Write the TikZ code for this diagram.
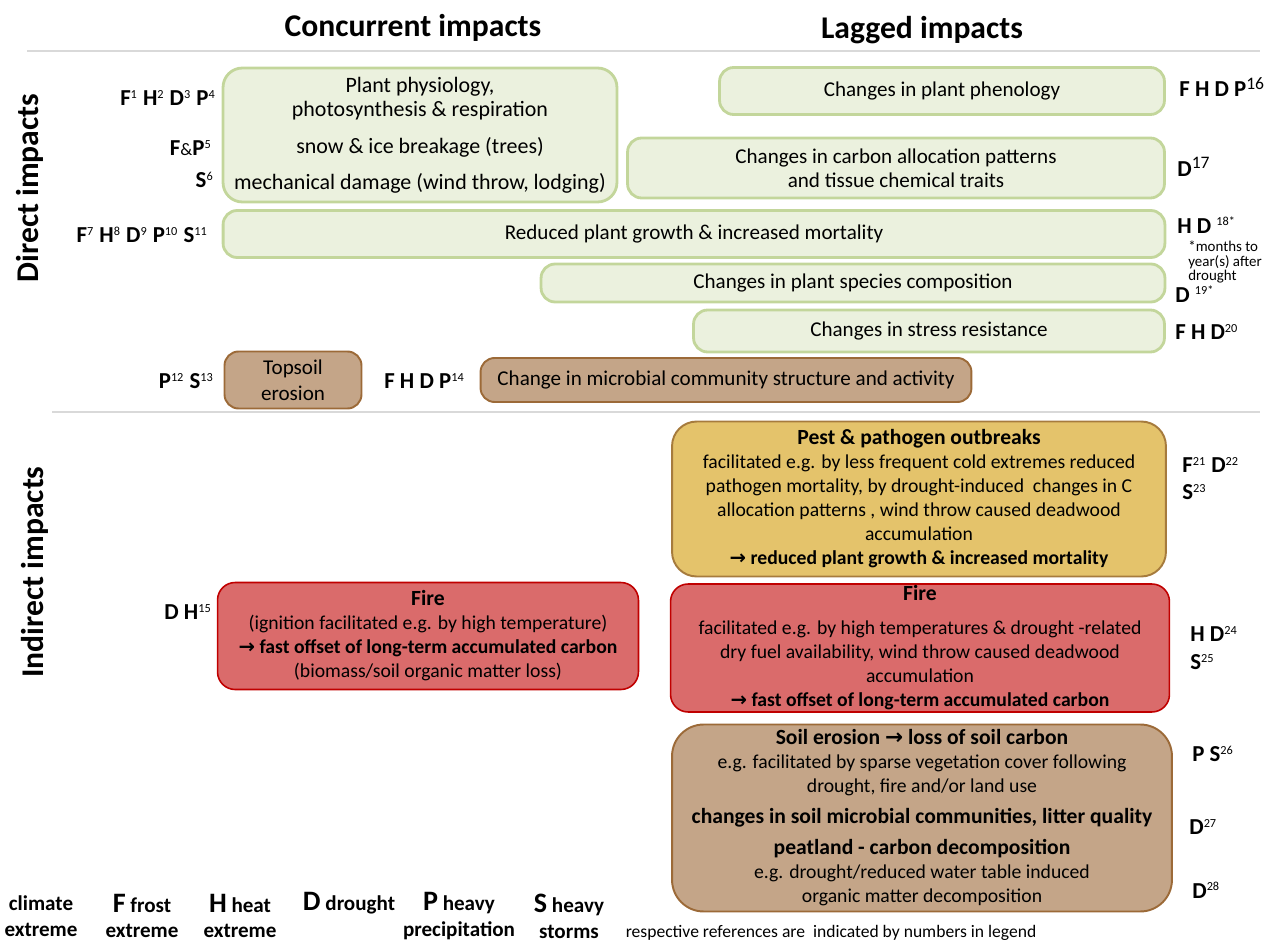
\documentclass[tikz,border=0pt]{standalone}
\usepackage{fontspec}
\setmainfont{Carlito}
\newfontfamily\symfont{DejaVu Sans}

\definecolor{leaf}{HTML}{EBF1DE}
\definecolor{leafline}{HTML}{C3D69B}
\definecolor{soil}{HTML}{C4A588}
\definecolor{soilline}{HTML}{9C6A38}
\definecolor{pest}{HTML}{E4C36B}
\definecolor{pestline}{HTML}{A67B3D}
\definecolor{fire}{HTML}{DA6B6B}
\definecolor{fireline}{HTML}{C00000}
\definecolor{rule}{HTML}{D9D9D9}

\newcommand{\rf}[1]{\textsuperscript{\mdseries\fontsize{7}{8}\selectfont #1}}
\newcommand{\arr}{{\symfont\char"2192}}
\newcommand{\ttl}[1]{{\fontsize{12.3}{13.66}\selectfont\bfseries #1}}

\begin{document}
\begin{tikzpicture}[x=0.02cm, y=-0.02cm,
    font=\fontsize{12}{13.66}\selectfont,
    greenbox/.style={draw=leafline, fill=leaf, line width=1.6pt, rounded corners=8pt, align=center, inner sep=0pt},
    soilbox/.style={draw=soilline, fill=soil, line width=1.1pt, rounded corners=8pt, align=center, inner sep=0pt},
    pestbox/.style={draw=pestline, fill=pest, line width=1.1pt, rounded corners=14pt, align=center, inner sep=0pt,
        font=\fontsize{11.2}{13.66}\selectfont},
    firebox/.style={draw=fireline, fill=fire, line width=0.9pt, rounded corners=10pt, align=center, inner sep=0pt,
        font=\fontsize{11.2}{13.66}\selectfont},
    refs/.style={font=\fontsize{13}{15}\bfseries, inner sep=0pt},
    head/.style={font=\fontsize{18}{21}\bfseries},
    legend/.style={font=\fontsize{12}{14.7}\bfseries, align=center, inner sep=0pt}]
    \useasboundingbox (0, 0) rectangle (1269, 946);

    % Headings
    \node at (413, 28) (concurrent) [head] {Concurrent impacts};
    \node at (922, 30) (lagged) [head] {Lagged impacts};
    \node at (30, 188) (direct) [head, rotate=90] {Direct impacts};
    \node at (35, 572) (indirect) [head, rotate=90] {Indirect impacts};
    \draw[rule, line width=1.5pt] (27, 51) -- (1260, 51);
    \draw[rule, line width=1.5pt] (52, 412) -- (1260, 412);

    % Direct impacts
    \node at (420, 135) (physio) [greenbox, rounded corners=11pt, minimum width=7.88cm, minimum height=2.68cm,
        font=\fontsize{12.5}{13.66}\selectfont]
        {Plant physiology,\\ photosynthesis \& respiration\\[0.26cm] snow \& ice breakage (trees)\\[0.24cm] mechanical damage (wind throw, lodging)};
    \node at (942, 91) (phenology) [greenbox, minimum width=8.9cm, minimum height=0.94cm] {Changes in plant phenology};
    \node at (896, 168) (allocation) [greenbox, minimum width=10.74cm, minimum height=1.2cm]
        {Changes in carbon allocation patterns\\ and tissue chemical traits};
    \node at (694, 234) (growth) [greenbox, minimum width=18.84cm, minimum height=0.94cm] {Reduced plant growth \& increased mortality};
    \node at (853, 283) (species) [greenbox, minimum width=12.48cm, minimum height=0.76cm] {Changes in plant species composition};
    \node at (929, 331) (resistance) [greenbox, minimum width=9.42cm, minimum height=0.84cm] {Changes in stress resistance};
    \node at (293, 380) (topsoil) [soilbox, minimum width=2.74cm, minimum height=1.14cm] {Topsoil\\[0.04cm] erosion};
    \node at (726, 380) (microbial) [soilbox, minimum width=9.82cm, minimum height=0.88cm] {Change in microbial community structure and activity};

    % Indirect impacts
    \node at (919, 499) (outbreak) [pestbox, minimum width=9.88cm, minimum height=3.1cm]
        {\ttl{Pest \& pathogen outbreaks}\\ facilitated e.g. by less frequent cold extremes reduced\\ pathogen mortality, by drought-induced\ \ changes in C\\ allocation patterns , wind throw caused deadwood\\ accumulation\\ \textbf{\arr\ reduced plant growth \& increased mortality}};
    \node at (428, 636) (firenow) [firebox, minimum width=8.42cm, minimum height=2.14cm]
        {\ttl{Fire}\\ (ignition facilitated e.g. by high temperature)\\ \textbf{\arr\ fast offset of long-term accumulated carbon}\\ (biomass/soil organic matter loss)};
    \node at (920, 648) (firelater) [firebox, minimum width=9.98cm, minimum height=2.56cm]
        {\ttl{Fire}\\[0.2cm] facilitated e.g. by high temperatures \& drought -related\\ dry fuel availability, wind throw caused deadwood\\ accumulation\\ \textbf{\arr\ fast offset of long-term accumulated carbon}};
    \node at (922, 818) (erosion) [soilbox, rounded corners=18pt, minimum width=10cm, minimum height=3.74cm,
        font=\fontsize{11.2}{13.66}\selectfont]
        {\ttl{Soil erosion \arr\ loss of soil carbon}\\ e.g. facilitated by sparse vegetation cover following\\ drought, fire and/or land use\\[0.14cm] \ttl{changes in soil microbial communities, litter quality}\\[0.14cm] \ttl{peatland - carbon decomposition}\\ e.g. drought/reduced water table induced\\ organic matter decomposition};

    % Labels
    \node at (216, 98) (r1) [refs, anchor=east] {F\rf{1} H\rf{2} D\rf{3} P\rf{4}};
    \node at (212, 148) (r5) [refs, anchor=east] {F{\mdseries\fontsize{10}{12}\selectfont\&}P\rf{5}};
    \node at (214, 180) (r6) [refs, anchor=east] {S\rf{6}};
    \node at (208, 235) (r7) [refs, anchor=east] {F\rf{7} H\rf{8} D\rf{9} P\rf{10} S\rf{11}};
    \node at (214, 381) (r12) [refs, anchor=east] {P\rf{12} S\rf{13}};
    \node at (384, 381) (r14) [refs, anchor=west] {F H D P\rf{14}};
    \node at (212, 612) (r15) [refs, anchor=east] {D H\rf{15}};
    \node at (1179, 87) (r16) [refs, anchor=west] {F H D P\textsuperscript{\mdseries\fontsize{10}{12}\selectfont 16}};
    \node at (1177, 167) (r17) [refs, anchor=west] {D\textsuperscript{\mdseries\fontsize{10}{12}\selectfont 17}};
    \node at (1177, 225) (r18) [refs, anchor=west] {H D \rf{18*}};
    \node at (1188, 262) (lag) [anchor=west, align=left, inner sep=0pt, font=\fontsize{8.5}{8.5}\selectfont] {*months to\\ year(s) after\\ drought};
    \node at (1175, 294) (r19) [refs, anchor=west] {D \rf{19*}};
    \node at (1175, 332) (r20) [refs, anchor=west] {F H D\rf{20}};
    \node at (1182, 465) (r21) [refs, anchor=west] {F\rf{21} D\rf{22}};
    \node at (1182, 492) (r23) [refs, anchor=west] {S\rf{23}};
    \node at (1190, 634) (r24) [refs, anchor=west] {H D\rf{24}};
    \node at (1190, 662) (r25) [refs, anchor=west] {S\rf{25}};
    \node at (1192, 754) (r26) [refs, anchor=west] {P S\rf{26}};
    \node at (1189, 827) (r27) [refs, anchor=west] {D\rf{27}};
    \node at (1192, 890) (r28) [refs, anchor=west] {D\rf{28}};

    % Legend
    \node at (41, 916) (climate) [legend] {climate\\ extreme};
    \node at (142, 916) (frost) [legend] {{\fontsize{16}{16}\selectfont F} frost\\ extreme};
    \node at (240, 916) (heat) [legend] {{\fontsize{16}{16}\selectfont H} heat\\ extreme};
    \node at (349, 903) (drought) [legend] {{\fontsize{16}{16}\selectfont D} drought};
    \node at (459, 916) (precip) [legend] {{\fontsize{16}{16}\selectfont P} heavy\\ precipitation};
    \node at (569, 916) (storms) [legend] {{\fontsize{16}{16}\selectfont S} heavy\\ storms};
    \node at (831, 933) (note) [font=\fontsize{10}{12}\selectfont, inner sep=0pt] {respective references are\ \ indicated by numbers in legend};
\end{tikzpicture}
\end{document}
